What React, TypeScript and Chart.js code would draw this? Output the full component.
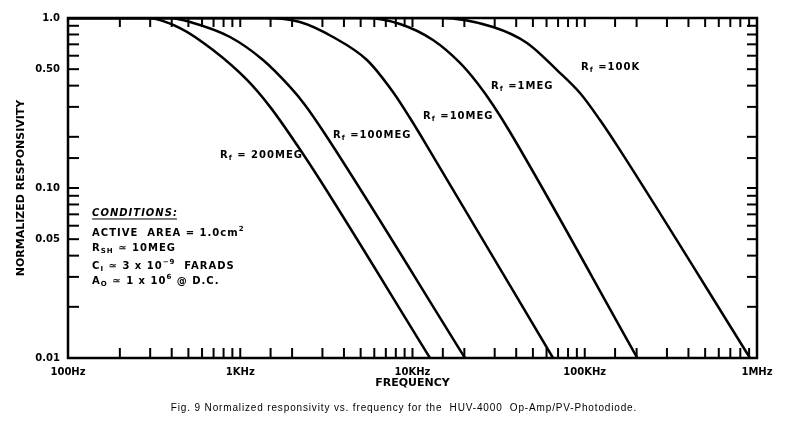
import React, { useEffect, useRef } from 'react';
import { Chart, registerables } from 'chart.js';

Chart.register(...registerables);

// ---- tick labels ----
const xTickValues = [100, 1000, 10000, 100000, 1000000];
const xTickLabels = ['100Hz', '1KHz', '10KHz', '100KHz', '1MHz'];
const yTickValues = [1, 0.5, 0.1, 0.05, 0.01];
const yTickLabels = ['1.0', '0.50', '0.10', '0.05', '0.01'];

// ---- series (frequency in Hz, normalized responsivity) ----
const rf200MegFreq = [100, 290, 447, 695, 1095, 1490, 2136, 2904, 12640];
const rf200MegResp = [1.0, 1.0, 0.873, 0.648, 0.432, 0.3, 0.179, 0.1114, 0.01];

const rf100MegFreq = [100, 390, 511, 872, 1356, 1945, 2376, 3105, 20170];
const rf100MegResp = [1.0, 1.0, 0.947, 0.773, 0.566, 0.393, 0.308, 0.2077, 0.01];

const rf10MegFreq = [100, 1390, 2220, 3455, 5440, 7703, 9672, 12640, 65430];
const rf10MegResp = [1.0, 1.0, 0.947, 0.773, 0.566, 0.367, 0.258, 0.165, 0.01];

const rf1MegFreq = [100, 5300, 8460, 13150, 18870, 24010, 29340, 36810, 202000];
const rf1MegResp = [1.0, 1.0, 0.922, 0.742, 0.544, 0.409, 0.308, 0.2135, 0.01];

const rf100kFreq = [100, 14400, 29340, 46200, 69020, 93850, 122600, 160200, 910900];
const rf100kResp = [1.0, 1.0, 0.885, 0.713, 0.494, 0.362, 0.251, 0.167, 0.01];

const seriesNames = ['200MEG', '100MEG', '10MEG', '1MEG', '100K'];
const seriesFreqs = [rf200MegFreq, rf100MegFreq, rf10MegFreq, rf1MegFreq, rf100kFreq];
const seriesResps = [rf200MegResp, rf100MegResp, rf10MegResp, rf1MegResp, rf100kResp];

// label anchors in data coordinates (left edge, middle)
const labelFreqs = [763, 3455, 11510, 28560, 95100];
const labelResps = [0.156, 0.205, 0.265, 0.398, 0.515];
const labelEquals = [' = 200MEG', ' =100MEG', ' =10MEG', ' =1MEG', ' =100K'];

const conditionsAnchor = { freq: 138, resp: 0.0713 };

const captionText =
  'Fig. 9 Normalized responsivity vs. frequency for the  HUV-4000  Op-Amp/PV-Photodiode.';

type Seg = { t: string; sub?: boolean; sup?: boolean; italic?: boolean; underline?: boolean };

const conditionLines: Seg[][] = [
  [{ t: 'CONDITIONS:', italic: true, underline: true }],
  [{ t: 'ACTIVE  AREA = 1.0cm' }, { t: '2', sup: true }],
  [{ t: 'R' }, { t: 'SH', sub: true }, { t: ' \u2243 10MEG' }],
  [{ t: 'C' }, { t: 'I', sub: true }, { t: ' \u2243 3 x 10' }, { t: '\u22129', sup: true }, { t: '  FARADS' }],
  [{ t: 'A' }, { t: 'O', sub: true }, { t: ' \u2243 1 x 10' }, { t: '6', sup: true }, { t: ' @ D.C.' }],
];
const conditionOffsets = [0, 20, 35, 53, 68];

function labelFor(v: number, vals: number[], labels: string[]) {
  for (let i = 0; i < vals.length; i++) {
    if (Math.abs(Math.log10(v) - Math.log10(vals[i])) < 1e-6) return labels[i];
  }
  return '';
}

const FONT = '"DejaVu Sans"';

function drawRich(ctx: CanvasRenderingContext2D, segs: Seg[], x: number, y: number, size: number, spacing: number) {
  let cx = x;
  for (const s of segs) {
    const fs = s.sub || s.sup ? Math.round(size * 0.7) : size;
    ctx.font = `${s.italic ? 'italic ' : ''}bold ${fs}px ${FONT}`;
    (ctx as any).letterSpacing = spacing + 'px';
    const dy = s.sub ? size * 0.35 : s.sup ? -size * 0.4 : 0;
    ctx.fillText(s.t, cx, y + dy);
    const w = ctx.measureText(s.t).width;
    if (s.underline) {
      ctx.beginPath();
      ctx.lineWidth = 1;
      ctx.moveTo(cx, y + size * 0.6);
      ctx.lineTo(cx + w - spacing, y + size * 0.6);
      ctx.stroke();
    }
    cx += w;
  }
  (ctx as any).letterSpacing = '0px';
}

const decorPlugin = {
  id: 'decor',
  afterDatasetsDraw(chart: any) {
    const { ctx, chartArea: a, scales } = chart;
    const xs = scales.x;
    const ys = scales.y;
    ctx.save();
    ctx.strokeStyle = '#000';
    ctx.fillStyle = '#000';
    ctx.lineWidth = 2;
    const seg = (x1: number, y1: number, x2: number, y2: number) => {
      ctx.beginPath();
      ctx.moveTo(x1, y1);
      ctx.lineTo(x2, y2);
      ctx.stroke();
    };
    // inward minor ticks on all four sides
    xs.ticks.forEach((t: any) => {
      const px = xs.getPixelForValue(t.value);
      if (px < a.left + 1 || px > a.right - 1) return;
      seg(px, a.bottom, px, a.bottom - 10);
      seg(px, a.top, px, a.top + 9);
    });
    ys.ticks.forEach((t: any) => {
      const py = ys.getPixelForValue(t.value);
      if (py < a.top + 1 || py > a.bottom - 1) return;
      seg(a.left, py, a.left + 11, py);
      seg(a.right, py, a.right - 10, py);
    });
    ctx.lineWidth = 2.5;
    ctx.strokeRect(a.left, a.top, a.right - a.left, a.bottom - a.top);

    // curve labels
    ctx.textAlign = 'left';
    ctx.textBaseline = 'middle';
    for (let i = 0; i < seriesNames.length; i++) {
      const lx = xs.getPixelForValue(labelFreqs[i]);
      const ly = ys.getPixelForValue(labelResps[i]);
      drawRich(ctx, [{ t: 'R' }, { t: 'f', sub: true }, { t: labelEquals[i] }], lx, ly, 10, 1);
    }

    // conditions block
    const cx = xs.getPixelForValue(conditionsAnchor.freq);
    const cy = ys.getPixelForValue(conditionsAnchor.resp);
    conditionLines.forEach((line, i) => {
      drawRich(ctx, line, cx, cy + conditionOffsets[i], 10, 1);
    });

    // caption
    ctx.font = `10px "Liberation Sans"`;
    (ctx as any).letterSpacing = '0.85px';
    ctx.textAlign = 'center';
    ctx.fillText(captionText, 404, 408);
    (ctx as any).letterSpacing = '0px';
    ctx.restore();
  },
};

export default function App() {
  const ref = useRef<HTMLCanvasElement>(null);
  useEffect(() => {
    const datasets = seriesNames.map((name, i) => ({
      label: 'Rf = ' + name,
      data: seriesFreqs[i].map((f, j) => ({ x: f, y: seriesResps[i][j] })),
      borderColor: '#000',
      backgroundColor: '#000',
      borderWidth: 2.5,
      pointRadius: 0,
      cubicInterpolationMode: 'monotone' as const,
      fill: false,
    }));
    const tickFont = { family: 'DejaVu Sans', weight: 'bold' as const, size: 10 };
    const titleFont = { family: 'DejaVu Sans', weight: 'bold' as const, size: 11 };
    const chart = new Chart(ref.current as HTMLCanvasElement, {
      type: 'line',
      data: { datasets },
      plugins: [decorPlugin],
      options: {
        animation: false,
        responsive: false,
        layout: { padding: { top: 18, right: 32, left: 0, bottom: 0 } },
        plugins: {
          legend: { display: false },
          tooltip: { enabled: false },
          title: { display: false },
        },
        scales: {
          x: {
            type: 'logarithmic',
            min: 100,
            max: 1000000,
            grid: { display: false, drawTicks: false },
            border: { display: false },
            afterFit: (s: any) => {
              s.height = 65;
            },
            ticks: {
              autoSkip: false,
              maxRotation: 0,
              minRotation: 0,
              padding: 8,
              color: '#000',
              font: tickFont,
              callback: (v: any) => labelFor(Number(v), xTickValues, xTickLabels),
            },
            title: {
              display: true,
              text: 'FREQUENCY',
              color: '#000',
              font: titleFont,
              padding: { top: 0, bottom: 33 },
            },
          },
          y: {
            type: 'logarithmic',
            min: 0.01,
            max: 1,
            grid: { display: false, drawTicks: false },
            border: { display: false },
            afterFit: (s: any) => {
              s.width = 68;
            },
            ticks: {
              autoSkip: false,
              padding: 8,
              color: '#000',
              font: tickFont,
              callback: (v: any) => labelFor(Number(v), yTickValues, yTickLabels),
            },
            title: {
              display: true,
              text: 'NORMALIZED RESPONSIVITY',
              color: '#000',
              font: titleFont,
              padding: { top: 15, bottom: 0 },
            },
          },
        },
      } as any,
    });
    return () => chart.destroy();
  }, []);
  return (
    <div style={{ position: 'fixed', left: 0, top: 0, width: 789, height: 423, background: '#fff' }}>
      <canvas ref={ref} width={789} height={423} style={{ width: 789, height: 423, display: 'block' }} />
    </div>
  );
}
